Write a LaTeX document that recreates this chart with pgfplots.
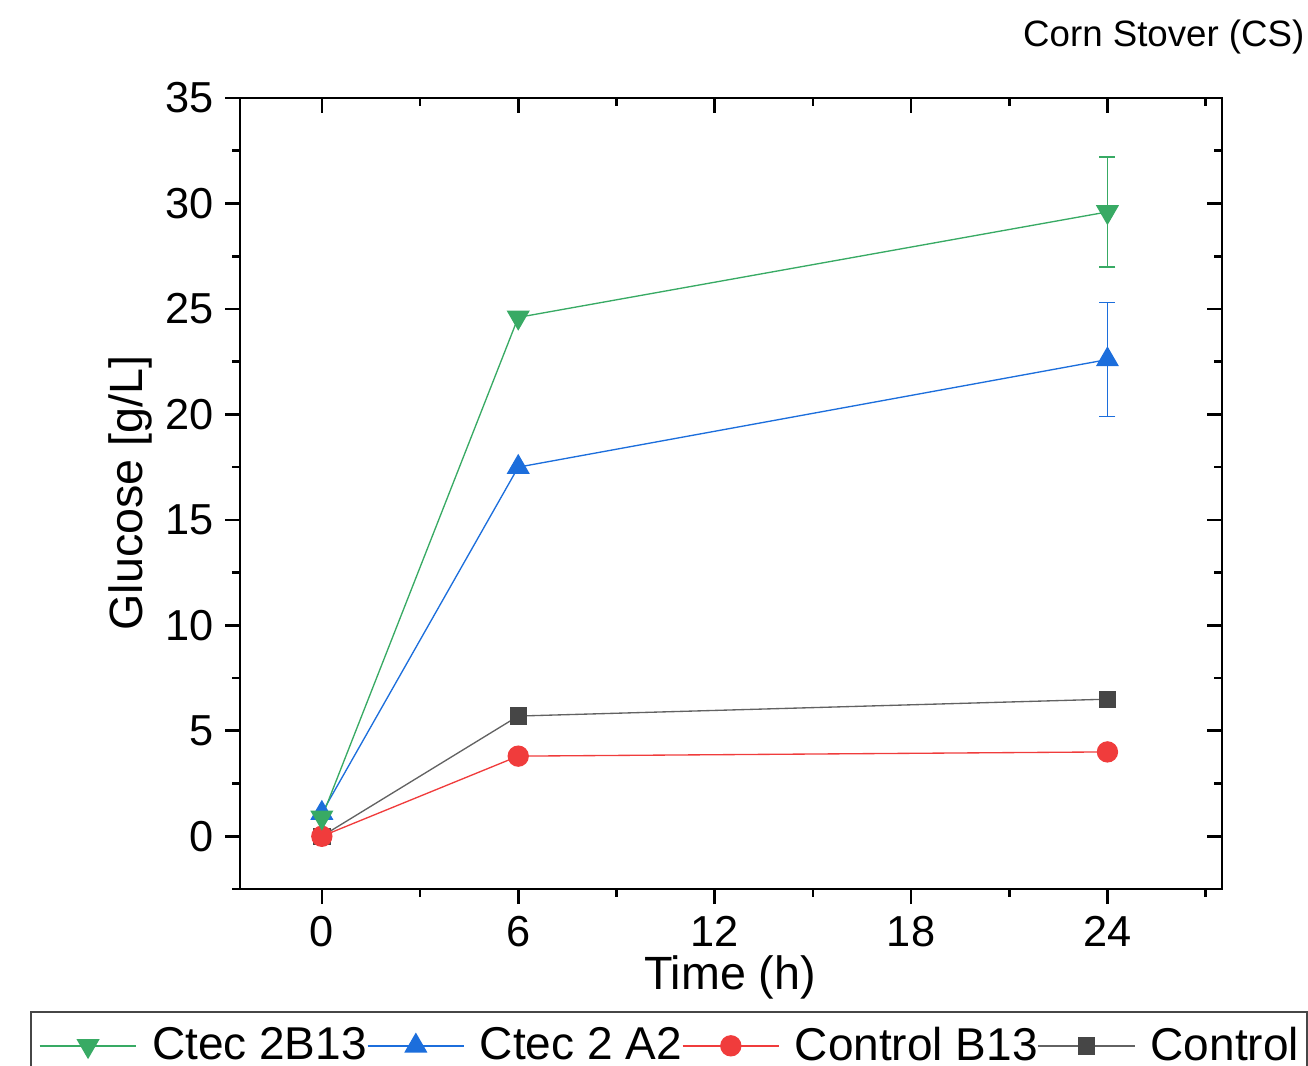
\documentclass[border=0pt]{standalone}
\usepackage{fontspec}
\setmainfont{Liberation Sans}
\usepackage{pgfplots}
\pgfplotsset{compat=1.18}

\definecolor{cgreen}{RGB}{56,170,100}
\definecolor{cblue}{RGB}{28,110,220}
\definecolor{cred}{RGB}{240,60,60}
\definecolor{cgray}{RGB}{70,70,70}

\pgfplotsset{
  base/.style={
    scale only axis,
    width=294.6pt, height=237.3pt,
    at={(72pt,52.8pt)}, anchor=south west,
    xmin=-2.5, xmax=27.5, ymin=-2.5, ymax=35,
    xtick={0,6,12,18,24}, ytick={0,5,...,35},
    minor xtick={3,9,15,21,27},
    minor ytick={-2.5,2.5,7.5,12.5,17.5,22.5,27.5,32.5},
    axis line style={line width=0.8pt},
    every tick/.style={black, line width=0.8pt},
    major tick length=4.5pt, minor tick length=2.3pt,
    /pgf/number format/assume math mode=true,
    ticklabel style={font=\fontsize{13}{15}\selectfont},
  }
}

\begin{document}
\begin{tikzpicture}
\useasboundingbox (0,0) rectangle (392.4pt,319.5pt);

% top and right ticks point inward
\begin{axis}[base, tick align=inside, xtick pos=right, ytick pos=right,
  xticklabels={}, yticklabels={}]
\end{axis}

\begin{axis}[base, tick align=outside, xtick pos=left, ytick pos=left,
  xlabel={Time (h)}, ylabel={Glucose [g/L]},
  label style={font=\fontsize{14}{16}\selectfont},
  xlabel style={at={(axis description cs:0.499,-0.112)}, anchor=center},
  ylabel style={at={(axis description cs:-0.112,0.5006)}, anchor=center},
  legend columns=4,
  reverse legend,
  legend style={at={(-0.2138,-0.1542)}, anchor=north west,
    draw=cgray, line width=0.6pt, inner sep=2.4pt,
    font=\fontsize{13.8}{15}\selectfont,
    nodes={inner xsep=0pt, inner ysep=2pt},
    /tikz/every odd column/.append style={column sep=4.5pt},
    /tikz/every even column/.append style={column sep=0pt}},
  legend image code/.code={\draw[mark repeat=2,mark phase=2,#1] plot coordinates {(0pt,0pt) (14.5pt,0pt) (29pt,0pt)};},
]
% error bars at 24 h
\addplot[cblue, mark=none, forget plot, error bars/.cd, y dir=both, y explicit,
  error bar style={line width=0.45pt}, error mark options={rotate=90, mark size=2.4pt, line width=0.45pt}]
  coordinates {(24,22.6) +- (0,2.7)};
\addplot[cgreen, mark=none, forget plot, error bars/.cd, y dir=both, y explicit,
  error bar style={line width=0.45pt}, error mark options={rotate=90, mark size=2.4pt, line width=0.45pt}]
  coordinates {(24,29.6) +- (0,2.6)};

\addplot[cgray!85, line width=0.4pt, mark=square*, mark size=2.4pt, mark options={fill=cgray, draw=cgray}]
  coordinates {(0,0) (6,5.7) (24,6.5)};
\addlegendentry{Control\hspace{8pt}}

\addplot[cred, line width=0.4pt, mark=*, mark size=3pt, mark options={fill=cred, draw=cred}]
  coordinates {(0,0) (6,3.8) (24,4.0)};
\addlegendentry{Control B13}

\addplot[cblue, line width=0.4pt, mark=triangle*, mark size=3.6pt, mark options={fill=cblue, draw=cblue}]
  coordinates {(0,1.1) (6,17.5) (24,22.6)};
\addlegendentry{Ctec 2 A2}

\addplot[cgreen, line width=0.4pt, mark=triangle*, mark size=3.6pt, mark options={fill=cgreen, draw=cgreen, rotate=180}]
  coordinates {(0,0.9) (6,24.6) (24,29.6)};
\addlegendentry{Ctec 2B13}
\end{axis}

\node[anchor=east, font=\fontsize{11}{13}\selectfont, inner sep=0pt] at (391.5pt,308.4pt) {Corn Stover (CS)};
\end{tikzpicture}
\end{document}
